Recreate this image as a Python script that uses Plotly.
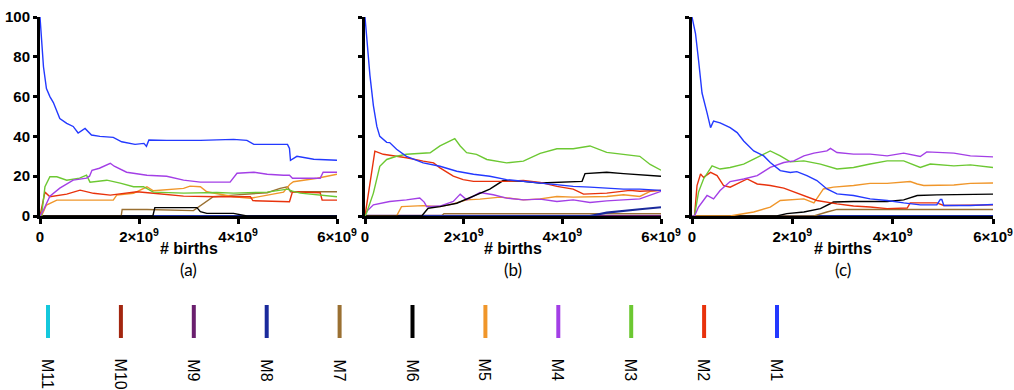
import plotly.graph_objects as go

# ---------------- data (x in units of 1e9 births, y in %) ----------------
series_names = ["M1", "M2", "M3", "M4", "M5", "M6", "M7", "M8", "M9", "M10", "M11"]
series_colors = ["#2339ff", "#e8320c", "#6cc832", "#a33fe6", "#f0962a", "#000000",
                 "#9a7032", "#1a2a9c", "#6a1f6e", "#a3260f", "#14c8dc"]
x_tick_vals = [0, 2, 4, 6]
x_tick_text = ["0", "2×10<sup>9</sup>", "4×10<sup>9</sup>", "6×10<sup>9</sup>"]
y_tick_vals = [0, 20, 40, 60, 80, 100]
panel_labels = ["(a)", "(b)", "(c)"]

# panel (a)
a_M1_x = [0, 0.03, 0.07, 0.13, 0.2, 0.27, 0.34, 0.4, 0.54, 0.67, 0.77, 0.91, 1.04, 1.21, 1.48, 1.65, 1.92, 2.1, 2.15, 2.2, 2.56, 3.24, 3.91, 4.18, 4.32, 5.0, 5.04, 5.06, 5.19, 5.3, 5.53, 6.0]
a_M1_y = [100, 87, 75, 64, 60, 57, 53, 49, 46.6, 45, 41.7, 44, 40.7, 40, 39.5, 37.3, 36, 36.5, 35, 38.2, 38, 38, 38.5, 38, 36, 36, 34, 28, 30, 29.5, 28.5, 28]
a_M2_x = [0, 0.07, 0.1, 0.2, 0.54, 0.81, 1.08, 1.42, 1.75, 1.96, 2.29, 2.9, 3.57, 4.25, 4.3, 5.0, 5.04, 5.1, 5.66, 5.7, 6.0]
a_M2_y = [0, 8, 12, 9.7, 11, 13, 11.4, 10.5, 11.4, 12.2, 11.4, 10, 9.7, 9.7, 7.7, 7.2, 7.2, 12.2, 11.7, 8, 8]
a_M3_x = [0, 0.03, 0.1, 0.2, 0.34, 0.54, 0.8, 0.94, 1.01, 1.35, 1.62, 1.89, 2.09, 2.29, 2.9, 3.57, 3.91, 4.59, 5.0, 5.1, 5.26, 5.66, 6.0]
a_M3_y = [0, 0, 14.7, 19.7, 19.7, 18, 19, 20.5, 17, 18, 16.5, 14.7, 14.7, 12, 11.5, 11.8, 11.5, 12, 13.5, 12.5, 11.5, 10.5, 9.7]
a_M4_x = [0, 0.07, 0.2, 0.4, 0.67, 0.94, 1.0, 1.05, 1.2, 1.42, 1.5, 1.75, 2.16, 2.56, 2.9, 3.24, 3.84, 3.9, 3.98, 4.32, 4.59, 4.92, 5.04, 5.1, 5.66, 5.72, 6.0]
a_M4_y = [0, 3, 10, 14, 18, 19, 20, 23, 24, 26.5, 25, 22, 20.5, 20, 18, 17, 17, 19, 21.5, 22, 21, 20.5, 20.5, 19, 19, 22, 22]
a_M5_x = [0, 0.03, 0.13, 0.34, 1.48, 1.55, 1.89, 2.16, 2.29, 2.9, 3.03, 3.24, 3.37, 3.91, 4.25, 4.92, 5.05, 5.12, 5.6, 6.0]
a_M5_y = [0, 0, 5.5, 8, 8, 10.5, 11.4, 14.7, 12.7, 13.9, 15, 14.7, 12.2, 9.7, 8.9, 12, 16, 17.2, 19, 21]
a_M6_x = [0, 2.28, 2.32, 3.17, 3.24, 3.37, 3.91, 4.05, 4.18, 6.0]
a_M6_y = [0, 0, 4.2, 4.2, 2.2, 1.3, 1.3, 0.5, 0, 0]
a_M7_x = [0, 1.64, 1.66, 2.16, 3.1, 3.3, 3.5, 3.91, 4.59, 4.85, 5.0, 5.06, 6.0]
a_M7_y = [0, 0, 3.3, 3.3, 2.7, 6.4, 9.7, 10.5, 11.7, 13.9, 14.7, 12.2, 12.2]
a_M8_x = [0, 6.0]
a_M8_y = [0, 0]

# panel (b)
b_M1_x = [0, 0.05, 0.1, 0.17, 0.24, 0.3, 0.44, 0.5, 0.64, 0.84, 1.18, 1.52, 1.86, 2.2, 2.53, 2.87, 3.21, 3.55, 3.89, 4.22, 4.56, 4.9, 5.24, 5.57, 6.0]
b_M1_y = [100, 85, 70.7, 55.5, 45, 40, 37, 36.9, 33.5, 30, 26.7, 25, 22.5, 21, 20, 18.3, 17.4, 16.6, 15.7, 14.9, 14.5, 14, 13.5, 13.5, 12.9]
b_M2_x = [0, 0.1, 0.17, 0.2, 0.37, 0.64, 0.84, 1.18, 1.39, 1.52, 1.79, 1.99, 2.2, 2.87, 3.21, 3.55, 3.89, 4.22, 4.43, 4.9, 5.37, 5.57, 6.0]
b_M2_y = [0, 16.6, 30, 32.6, 31, 30, 29.3, 27.6, 26.7, 24.2, 20, 18.3, 17.4, 17.4, 17.9, 16.9, 14.9, 13.5, 11, 11.5, 12.9, 12.4, 12.9]
b_M3_x = [0, 0.03, 0.17, 0.3, 0.44, 0.64, 0.84, 1.18, 1.32, 1.52, 1.72, 1.82, 1.93, 2.06, 2.26, 2.47, 2.87, 3.21, 3.55, 3.89, 4.22, 4.56, 4.9, 5.24, 5.57, 5.78, 6.0]
b_M3_y = [0, 1.4, 11.5, 25, 28.4, 30, 31, 31.8, 31.8, 35.2, 37.7, 38.9, 35.2, 31.8, 31, 28.4, 26.7, 27.6, 31.5, 33.8, 33.8, 35.2, 32, 31, 30, 25.9, 23]
b_M4_x = [0, 0.03, 0.17, 0.5, 0.84, 1.11, 1.2, 1.25, 1.52, 1.79, 1.93, 2.06, 2.33, 2.6, 2.87, 3.21, 3.55, 3.89, 4.22, 4.56, 4.9, 5.24, 5.57, 6.0]
b_M4_y = [0, 2.2, 5.6, 7.3, 8.1, 9, 7, 4.7, 5, 7.3, 11, 8.1, 11.8, 10.7, 9, 8.1, 8.5, 7.3, 8.1, 6.8, 7.6, 8.1, 8.6, 12.4]
b_M5_x = [0, 0.64, 0.74, 1.18, 1.52, 1.79, 2.06, 2.33, 2.74, 3.21, 3.55, 3.89, 4.22, 4.56, 4.9, 5.24, 5.57, 5.78, 6.0]
b_M5_y = [0, 0, 4.7, 5.2, 4.7, 6.1, 8.1, 8.5, 9.5, 8.1, 8.6, 9.8, 9.5, 9.8, 9.8, 10.7, 9.8, 12.4, 12.9]
b_M6_x = [0, 1.15, 1.28, 1.52, 1.86, 2.2, 2.53, 2.8, 3.21, 3.55, 4.22, 4.4, 4.46, 4.9, 5.24, 5.57, 6.0]
b_M6_y = [0, 0, 3.9, 4.7, 6.4, 9.8, 13.5, 17.8, 17.4, 16.6, 17.4, 17.4, 21.3, 22, 21.3, 20.8, 20]
b_M7_x = [0, 1.55, 1.6, 6.0]
b_M7_y = [0, 0, 1.2, 1.2]
b_M8_x = [0, 4.56, 4.9, 5.24, 5.57, 6.0]
b_M8_y = [0, 0, 1.7, 2.7, 3.4, 4.4]
b_M9_x = [0, 6.0]
b_M9_y = [0.3, 0.3]

# panel (c)
c_M1_x = [0, 0.07, 0.13, 0.2, 0.3, 0.37, 0.43, 0.56, 0.76, 0.9, 1.03, 1.23, 1.43, 1.56, 1.76, 1.96, 2.09, 2.29, 2.49, 2.69, 2.89, 3.22, 3.55, 3.89, 4.22, 4.55, 4.88, 4.95, 4.98, 5.02, 5.55, 6.0]
c_M1_y = [100, 91.7, 78.4, 61.8, 51.8, 44.4, 47.7, 46.8, 44.4, 41.9, 37.7, 32.7, 30.2, 26.9, 22.8, 21.9, 22.3, 20.3, 17.8, 13.6, 11.1, 10.3, 8.6, 7.8, 6.6, 5.6, 5.6, 8.3, 8.3, 5.3, 5.3, 5.8]
c_M2_x = [0, 0.05, 0.1, 0.17, 0.23, 0.37, 0.5, 0.63, 0.76, 1.1, 1.3, 1.56, 1.83, 2.03, 2.23, 2.49, 2.89, 3.22, 3.55, 3.89, 4.29, 4.35, 4.88, 5.02, 6.0]
c_M2_y = [0, 0, 15.3, 21.1, 19.4, 21.9, 20.3, 15.3, 14.5, 18.6, 16.1, 15.3, 14, 12, 10.3, 7.8, 6.1, 5, 4.5, 3.7, 4, 6.6, 6.6, 5.3, 5.6]
c_M3_x = [0, 0.05, 0.13, 0.23, 0.4, 0.56, 0.76, 1.03, 1.23, 1.43, 1.56, 1.76, 1.96, 2.23, 2.56, 2.89, 3.22, 3.55, 3.89, 4.22, 4.55, 4.75, 5.22, 5.55, 6.0]
c_M3_y = [0, 0, 12, 18.6, 25.2, 23.6, 24.4, 26.1, 28.6, 31.1, 32.7, 30.2, 27.2, 27.7, 26.1, 23.6, 24.4, 26.1, 27.7, 27.7, 24.4, 26.1, 25.2, 25.7, 24.4]
c_M4_x = [0, 0.05, 0.13, 0.3, 0.43, 0.56, 0.76, 1.03, 1.3, 1.56, 1.83, 2.03, 2.23, 2.43, 2.69, 2.76, 2.89, 3.22, 3.55, 3.89, 4.22, 4.55, 4.68, 5.22, 5.55, 6.0]
c_M4_y = [0, 0, 4.5, 10.3, 8.6, 12.8, 17.3, 18.6, 20.3, 24.4, 26.9, 27.7, 30.2, 31.6, 32.7, 34, 31.9, 31.1, 31.1, 30.2, 31.6, 29.9, 32.2, 31.6, 30.2, 29.7]
c_M5_x = [0, 0.76, 0.9, 1.23, 1.56, 1.76, 2.23, 2.43, 2.62, 2.82, 3.22, 3.55, 3.89, 4.35, 4.49, 4.62, 5.22, 5.55, 6.0]
c_M5_y = [0, 0, 0.6, 2, 4.5, 7.8, 8.6, 6.6, 13.6, 14.5, 15.3, 16.4, 16.4, 17.3, 16.1, 15.3, 15.6, 16.4, 16.6]
c_M6_x = [0, 1.69, 1.89, 2.23, 2.56, 2.82, 3.22, 3.89, 4.22, 4.49, 4.88, 6.0]
c_M6_y = [0, 0, 1.2, 2, 3.7, 7, 7.3, 7.3, 8.1, 10.3, 10.6, 11]
c_M7_x = [0, 2.43, 2.69, 2.89, 6.0]
c_M7_y = [0, 0, 2, 3.3, 3.3]
c_M8_x = [0, 6.0]
c_M8_y = [0, 0]

panels = [
    [("M8", a_M8_x, a_M8_y), ("M7", a_M7_x, a_M7_y), ("M6", a_M6_x, a_M6_y), ("M5", a_M5_x, a_M5_y),
     ("M2", a_M2_x, a_M2_y), ("M3", a_M3_x, a_M3_y), ("M4", a_M4_x, a_M4_y), ("M1", a_M1_x, a_M1_y)],
    [("M9", b_M9_x, b_M9_y), ("M7", b_M7_x, b_M7_y), ("M8", b_M8_x, b_M8_y), ("M5", b_M5_x, b_M5_y),
     ("M4", b_M4_x, b_M4_y), ("M6", b_M6_x, b_M6_y), ("M2", b_M2_x, b_M2_y), ("M3", b_M3_x, b_M3_y), ("M1", b_M1_x, b_M1_y)],
    [("M8", c_M8_x, c_M8_y), ("M7", c_M7_x, c_M7_y), ("M6", c_M6_x, c_M6_y), ("M5", c_M5_x, c_M5_y),
     ("M2", c_M2_x, c_M2_y), ("M3", c_M3_x, c_M3_y), ("M4", c_M4_x, c_M4_y), ("M1", c_M1_x, c_M1_y)],
]

# ---------------- layout geometry ----------------
W, H = 1014, 390
x_domains_px = [(40, 337), (365, 661), (692, 993)]
y_top_px, y_bot_px = 17, 216
color_of = dict(zip(series_names, series_colors))

fig = go.Figure()
for p, traces in enumerate(panels):
    xa = "x" if p == 0 else f"x{p+1}"
    ya = "y" if p == 0 else f"y{p+1}"
    for name, xs, ys in traces:
        fig.add_trace(go.Scatter(
            x=[v * 1e9 for v in xs], y=ys, mode="lines", name=name,
            line=dict(color=color_of[name], width=1.4 if name != "M8" else 2.2),
            xaxis=xa, yaxis=ya, showlegend=False, hoverinfo="skip"))

layout = dict(width=W, height=H, margin=dict(l=0, r=0, t=0, b=0, autoexpand=False),
              paper_bgcolor="white", plot_bgcolor="white", showlegend=False)
tickfont = dict(family="Liberation Sans, Arial, sans-serif", size=15, color="black", weight="bold")
annotations = []
shapes = []
for p, (x0, x1) in enumerate(x_domains_px):
    key = "" if p == 0 else str(p + 1)
    layout["xaxis" + key] = dict(
        domain=[x0 / W, x1 / W], range=[0, 6e9], anchor="y" + key, automargin=False,
        tickmode="array", tickvals=[v * 1e9 for v in x_tick_vals], ticktext=x_tick_text,
        showline=True, linecolor="black", linewidth=3, ticks="outside", ticklen=5, tickwidth=2.5,
        tickcolor="black", showgrid=False, zeroline=False, tickfont=tickfont, layer="below traces")
    layout["yaxis" + key] = dict(
        domain=[(H - y_bot_px) / H, (H - y_top_px) / H], range=[0, 100], anchor="x" + key, automargin=False,
        tickmode="array", tickvals=y_tick_vals, showticklabels=(p == 0),
        showline=True, linecolor="black", linewidth=3, ticks="outside", ticklen=4, tickwidth=2.5,
        tickcolor="black", showgrid=False, zeroline=False, tickfont=tickfont, layer="below traces")
    cx = (x0 + x1) / 2 / W
    annotations.append(dict(text="<b># births</b>", x=cx, y=(H - 249) / H, xref="paper", yref="paper",
                            showarrow=False, xanchor="center", yanchor="middle",
                            font=dict(family="Liberation Sans, Arial, sans-serif", size=16, color="black")))
    annotations.append(dict(text=panel_labels[p], x=cx, y=(H - 269) / H, xref="paper", yref="paper",
                            showarrow=False, xanchor="center", yanchor="middle",
                            font=dict(family="Lato, sans-serif", size=17, color="black")))

# legend: vertical line swatches with rotated labels (M11 ... M1)
legend_order = series_names[::-1]
for i, name in enumerate(legend_order):
    lx = (48 + 72.9 * i) / W
    shapes.append(dict(type="line", xref="paper", yref="paper", x0=lx, x1=lx,
                       y0=(H - 305) / H, y1=(H - 338) / H,
                       line=dict(color=color_of[name], width=4)))
    annotations.append(dict(text=name, x=lx, y=(H - 357) / H, xref="paper", yref="paper",
                            showarrow=False, xanchor="center", yanchor="top", textangle=90,
                            font=dict(family="Liberation Sans, Arial, sans-serif", size=16, color="black")))

layout["annotations"] = annotations
layout["shapes"] = shapes
fig.update_layout(**layout)
fig.write_html("out.html", config={"displayModeBar": False},
               post_script="document.body.style.margin='0px';document.body.style.overflow='hidden';")
